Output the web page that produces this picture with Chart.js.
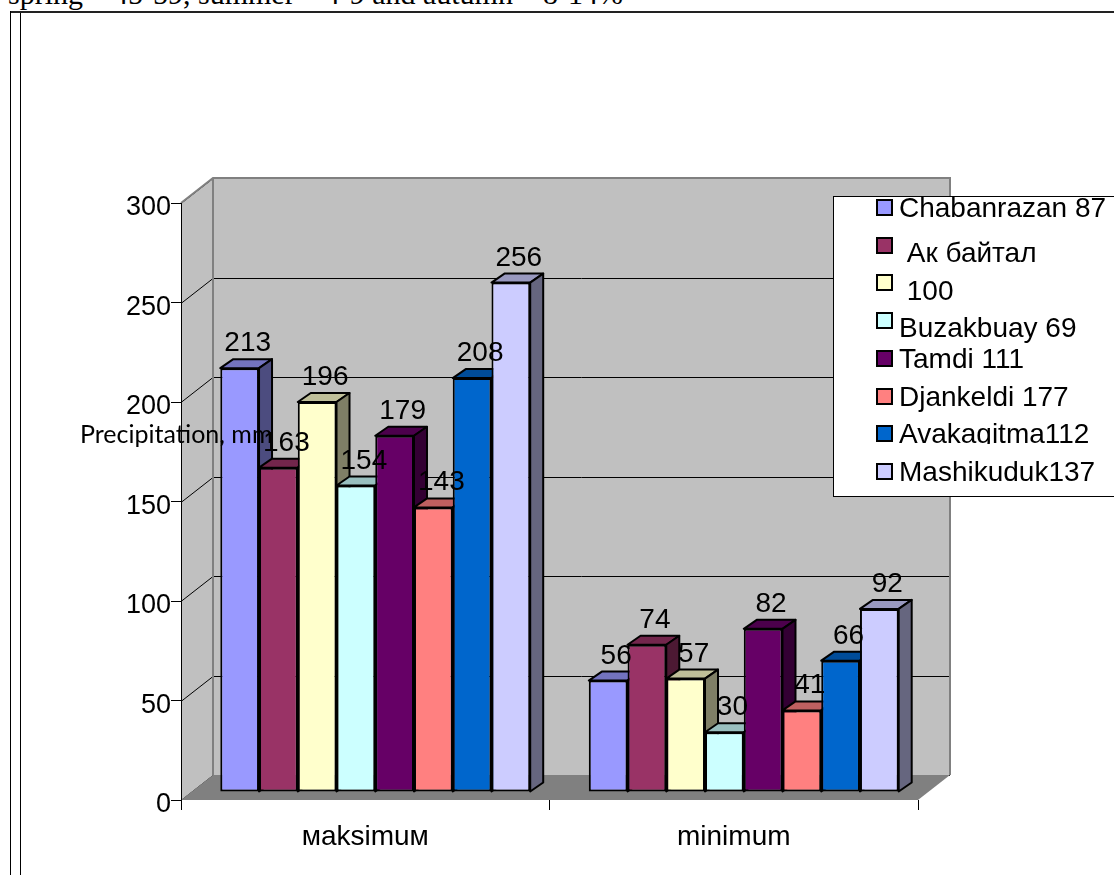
<!DOCTYPE html>
<html>
<head>
<meta charset="utf-8">
<script src="https://cdn.jsdelivr.net/npm/chart.js@4"></script>
<style>
  html, body { margin: 0; padding: 0; background: #fff; overflow: hidden; }
  body { width: 1114px; height: 875px; position: relative; }
  #topText { position: absolute; left: 8px; top: -21px; font: 30px 'Liberation Serif', 'Times New Roman', serif; line-height: 30px; white-space: nowrap; color: #000; }
  .frame { position: absolute; background: #000; }
  #chart { position: absolute; left: 0; top: 0; }
</style>
</head>
<body>
<div id="topText">spring – 45-59, summer – 4-9 and autumn – 8-14%</div>
<div class="frame" style="left:10px; top:11px; width:1104px; height:2px; background:#222"></div>
<div class="frame" style="left:10px; top:11px; width:1px; height:864px"></div>
<div class="frame" style="left:20px; top:13px; width:1px; height:862px"></div>
<canvas id="chart" width="1114" height="875"></canvas>
<script>
document.addEventListener('DOMContentLoaded', () => {
    const categories = ['мaksimuм', 'minimum'];
    const stations = ['Chabanrazan 87', ' Ак байтал', ' 100', 'Buzakbuay 69', 'Tamdi 111', 'Djankeldi 177', 'Avakagitma112', 'Mashikuduk137'];
    const maxValues = [213, 163, 196, 154, 179, 143, 208, 256];
    const minValues = [56, 74, 57, 30, 82, 41, 66, 92];
    const yMin = 0, yMax = 300, yStep = 50;
    const yTitle = 'Precipitation, mm';

    const frontColors = ['#9999ff', '#993366', '#ffffcc', '#ccffff', '#660066', '#ff8080', '#0066cc', '#ccccff'];
    const topColors = ['#7373bf', '#73264c', '#bfbf99', '#99bfbf', '#4c004c', '#bf6060', '#004c99', '#9999bf'];
    const sideColors = ['#4c4c7f', '#4c1933', '#7f7f66', '#667f7f', '#330033', '#7f4040', '#003366', '#66667f'];

    const font = "'Liberation Sans', Arial, sans-serif";
    // wall depth, bar depth and where the bars sit inside the box
    const WX = 32, WY = 25;
    const BX = 13, BY = 9;
    const SX = 10, SY = 8;

    const box3d = {
        id: 'box3d',
        beforeDraw(chart) {
            const ctx = chart.ctx;
            const a = chart.chartArea;
            const y = chart.scales.y;
            ctx.save();
            // back wall
            ctx.fillStyle = '#c0c0c0';
            ctx.fillRect(a.left + WX, a.top - WY, a.right - a.left, a.bottom - a.top);
            // side wall
            ctx.beginPath();
            ctx.moveTo(a.left, a.top);
            ctx.lineTo(a.left + WX, a.top - WY);
            ctx.lineTo(a.left + WX, a.bottom - WY);
            ctx.lineTo(a.left, a.bottom);
            ctx.closePath();
            ctx.fill();
            // grid lines
            ctx.strokeStyle = '#000';
            ctx.lineWidth = 1;
            y.ticks.forEach(t => {
                const py = Math.round(y.getPixelForValue(t.value)) + 0.5;
                ctx.beginPath();
                ctx.moveTo(a.left, py);
                ctx.lineTo(a.left + WX, py - WY);
                ctx.lineTo(a.right + WX, py - WY);
                ctx.stroke();
            });
            // wall edges
            ctx.strokeStyle = '#808080';
            ctx.lineWidth = 2;
            ctx.beginPath();
            ctx.moveTo(a.left, a.top);
            ctx.lineTo(a.left + WX, a.top - WY);
            ctx.lineTo(a.right + WX, a.top - WY);
            ctx.lineTo(a.right + WX, a.bottom - WY);
            ctx.moveTo(a.left + WX, a.top - WY);
            ctx.lineTo(a.left + WX, a.bottom - WY);
            ctx.stroke();
            // floor
            ctx.fillStyle = '#808080';
            ctx.beginPath();
            ctx.moveTo(a.left, a.bottom);
            ctx.lineTo(a.left + WX, a.bottom - WY);
            ctx.lineTo(a.right + WX, a.bottom - WY);
            ctx.lineTo(a.right, a.bottom);
            ctx.closePath();
            ctx.fill();
            ctx.restore();
        },
        beforeDatasetsDraw(chart) {
            const ctx = chart.ctx;
            ctx.save();
            ctx.translate(SX, -SY);
            // sides and tops, left to right; the fronts come after
            ctx.save();
            ctx.strokeStyle = '#000';
            ctx.lineWidth = 2;
            ctx.lineJoin = 'round';
            chart.data.datasets.forEach((ds, i) => {
                chart.getDatasetMeta(i).data.forEach(bar => {
                    const p = bar.getProps(['x', 'y', 'base', 'width'], true);
                    const l = p.x - p.width / 2, r = p.x + p.width / 2;
                    ctx.fillStyle = topColors[i];
                    ctx.beginPath();
                    ctx.moveTo(l, p.y);
                    ctx.lineTo(l + BX, p.y - BY);
                    ctx.lineTo(r + BX, p.y - BY);
                    ctx.lineTo(r, p.y);
                    ctx.closePath();
                    ctx.fill();
                    ctx.stroke();
                    ctx.fillStyle = sideColors[i];
                    ctx.beginPath();
                    ctx.moveTo(r, p.y);
                    ctx.lineTo(r + BX, p.y - BY);
                    ctx.lineTo(r + BX, p.base - BY);
                    ctx.lineTo(r, p.base);
                    ctx.closePath();
                    ctx.fill();
                    ctx.stroke();
                });
            });
            ctx.restore();
        },
        afterDatasetsDraw(chart) {
            const ctx = chart.ctx;
            ctx.save();
            ctx.fillStyle = '#000';
            ctx.font = '28px ' + font;
            ctx.textAlign = 'center';
            ctx.textBaseline = 'alphabetic';
            chart.data.datasets.forEach((ds, i) => {
                chart.getDatasetMeta(i).data.forEach((bar, j) => {
                    const p = bar.getProps(['x', 'y'], true);
                    ctx.fillText(String(ds.data[j]), p.x + 8, p.y - 17);
                });
            });
            ctx.restore();
            ctx.restore();
        },
        afterDraw(chart) {
            const ctx = chart.ctx;
            ctx.save();
            // legend
            ctx.fillStyle = '#fff';
            ctx.fillRect(833, 196, 300, 301);
            ctx.strokeStyle = '#000';
            ctx.lineWidth = 1;
            ctx.strokeRect(833.5, 196.5, 300, 300);
            const shift = [0, 7, 8, 7, 0, 0, 0, 0];
            ctx.font = '28px ' + font;
            ctx.textBaseline = 'alphabetic';
            chart.data.datasets.forEach((ds, i) => {
                const top = Math.round(200 + i * 37.7);
                ctx.fillStyle = ds.backgroundColor;
                ctx.fillRect(877, top, 15, 15);
                ctx.lineWidth = 2;
                ctx.strokeRect(877, top, 15, 15);
                ctx.fillStyle = '#000';
                ctx.save();
                if (i === 6) {
                    ctx.beginPath();
                    ctx.rect(895, top - 30, 240, 48);
                    ctx.clip();
                }
                ctx.fillText(ds.label, 899, top + 17 + shift[i]);
                ctx.restore();
            });
            // axis title
            ctx.font = "25px Lato, 'Open Sans', sans-serif";
            ctx.fillText(yTitle, 80, 443);
            ctx.restore();
        }
    };

    const ctx = document.getElementById('chart').getContext('2d');
    new Chart(ctx, {
        type: 'bar',
        data: {
            labels: categories,
            datasets: stations.map((name, i) => ({
                label: name,
                data: [maxValues[i], minValues[i]],
                backgroundColor: frontColors[i],
                borderColor: '#000',
                borderWidth: 2,
                borderSkipped: false,
                clip: false
            }))
        },
        options: {
            responsive: false,
            animation: false,
            devicePixelRatio: 1,
            categoryPercentage: 0.841,
            barPercentage: 1,
            layout: { padding: { left: 0, right: 196, top: 203, bottom: 0 } },
            plugins: {
                legend: { display: false },
                tooltip: { enabled: false }
            },
            scales: {
                x: {
                    offset: true,
                    grid: { offset: true, drawOnChartArea: false, tickLength: 10, color: '#000' },
                    border: { display: false },
                    ticks: { color: '#000', font: { family: font, size: 28 }, padding: 10 },
                    afterFit: s => { s.height = 75; }
                },
                y: {
                    min: yMin,
                    max: yMax,
                    ticks: { stepSize: yStep, color: '#000', font: { family: font, size: 27 }, padding: 0, labelOffset: 5 },
                    grid: { drawOnChartArea: false, tickLength: 10, color: '#000' },
                    border: { color: '#000', width: 1 },
                    afterFit: s => { s.width = 181; }
                }
            }
        },
        plugins: [box3d]
    });
});
</script>
</body>
</html>
